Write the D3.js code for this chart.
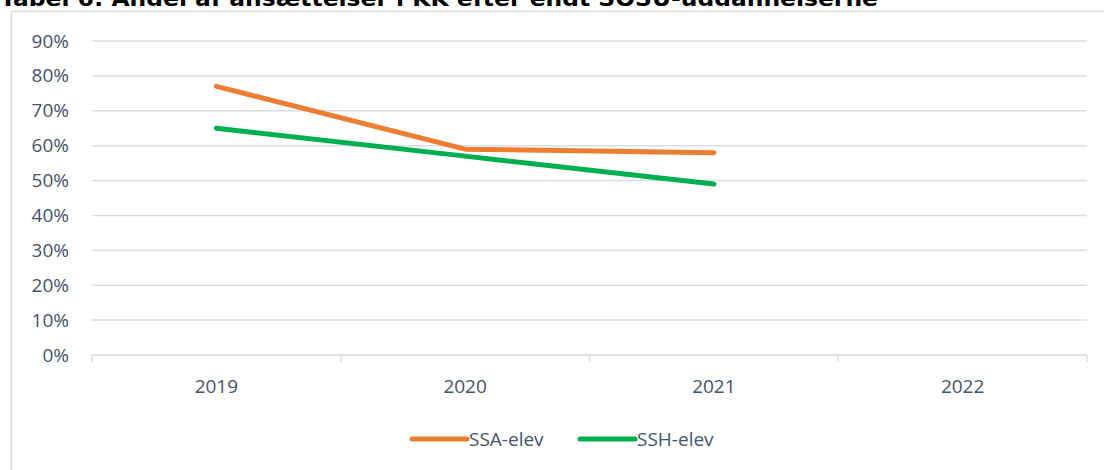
<!DOCTYPE html>
<html>
<head>
<meta charset="utf-8">
<script src="https://cdn.jsdelivr.net/npm/d3@7"></script>
<style>
  html, body { margin: 0; padding: 0; background: #fff; }
  svg { display: block; }
</style>
</head>
<body>
<svg id="chart" width="1104" height="470"></svg>
<script>
const years = ['2019', '2020', '2021', '2022']
const ssaValues = [0.77, 0.59, 0.58, null]
const sshValues = [0.65, 0.57, 0.49, null]
const seriesNames = ['SSA-elev', 'SSH-elev']
const seriesColors = ['#ED7D31', '#00B050']
const yTicks = [0, 0.1, 0.2, 0.3, 0.4, 0.5, 0.6, 0.7, 0.8, 0.9]
const title = 'Tabel 6: Andel af ansættelser i KK efter endt SOSU-uddannelserne'

const width = 1104
const height = 470
const margin = { top: 41, right: 17, bottom: 115, left: 92 }
const textColor = '#44546A'
const gridColor = '#D9DDE4'
const font = "'Open Sans', 'Noto Sans', sans-serif"
const fontSize = 19

const svg = d3.select('#chart')

// title, cut off at the top like in the source image
svg.append('text')
  .attr('x', 0)
  .attr('y', 6)
  .attr('font-family', "'DejaVu Sans', sans-serif")
  .attr('font-weight', 'bold')
  .attr('font-size', 21)
  .attr('textLength', 878)
  .attr('lengthAdjust', 'spacingAndGlyphs')
  .attr('fill', '#000')
  .text(title)

// chart frame
svg.append('rect')
  .attr('x', 11.5)
  .attr('y', 11.5)
  .attr('width', width)
  .attr('height', height)
  .attr('fill', 'none')
  .attr('stroke', gridColor)
  .attr('stroke-width', 1.5)

const x = d3.scaleBand()
  .domain(years)
  .range([margin.left, width - margin.right])

const y = d3.scaleLinear()
  .domain([0, 0.9])
  .range([height - margin.bottom, margin.top])

// grid lines
svg.append('g')
  .selectAll('line')
  .data(yTicks)
  .join('line')
    .attr('x1', margin.left)
    .attr('x2', width - margin.right)
    .attr('y1', d => y(d))
    .attr('y2', d => y(d))
    .attr('stroke', gridColor)
    .attr('stroke-width', 1.5)

// y labels
const yAxis = d3.axisLeft(y)
  .tickValues(yTicks)
  .tickFormat(d3.format('.0%'))
  .tickSize(0)
  .tickPadding(23)

svg.append('g')
  .attr('transform', `translate(${margin.left},0)`)
  .call(yAxis)
  .call(g => g.select('.domain').remove())
  .call(g => g.selectAll('text')
    .attr('font-family', font)
    .attr('font-size', fontSize)
    .attr('fill', textColor))

// x axis with boundary ticks
const xAxisY = y(0)
const xg = svg.append('g')
xg.append('line')
  .attr('x1', margin.left)
  .attr('x2', width - margin.right)
  .attr('y1', xAxisY)
  .attr('y2', xAxisY)
  .attr('stroke', gridColor)
  .attr('stroke-width', 1.5)

const boundaries = years.map(d => x(d)).concat([x(years[years.length - 1]) + x.bandwidth()])
xg.selectAll('line.tick')
  .data(boundaries)
  .join('line')
    .attr('class', 'tick')
    .attr('x1', d => d)
    .attr('x2', d => d)
    .attr('y1', xAxisY)
    .attr('y2', xAxisY + 7)
    .attr('stroke', gridColor)
    .attr('stroke-width', 1.5)

xg.selectAll('text')
  .data(years)
  .join('text')
    .attr('x', d => x(d) + x.bandwidth() / 2)
    .attr('y', xAxisY + 38)
    .attr('text-anchor', 'middle')
    .attr('font-family', font)
    .attr('font-size', fontSize)
    .attr('fill', textColor)
    .text(d => d)

// lines
const line = d3.line()
  .defined(d => d.v !== null)
  .x(d => x(d.year) + x.bandwidth() / 2)
  .y(d => y(d.v))

const series = [ssaValues, sshValues]
series.forEach((vals, i) => {
  svg.append('path')
    .datum(years.map((yr, j) => ({ year: yr, v: vals[j] })))
    .attr('fill', 'none')
    .attr('stroke', seriesColors[i])
    .attr('stroke-width', 5)
    .attr('stroke-linecap', 'round')
    .attr('stroke-linejoin', 'round')
    .attr('d', line)
})

// legend
const legendX = [412, 580]
const legendY = 439
seriesNames.forEach((name, i) => {
  svg.append('line')
    .attr('x1', legendX[i])
    .attr('x2', legendX[i] + 55)
    .attr('y1', legendY)
    .attr('y2', legendY)
    .attr('stroke', seriesColors[i])
    .attr('stroke-width', 5)
    .attr('stroke-linecap', 'round')
  svg.append('text')
    .attr('x', legendX[i] + 57)
    .attr('y', legendY + 7)
    .attr('font-family', font)
    .attr('font-size', fontSize)
    .attr('fill', textColor)
    .text(name)
})
</script>
</body>
</html>
